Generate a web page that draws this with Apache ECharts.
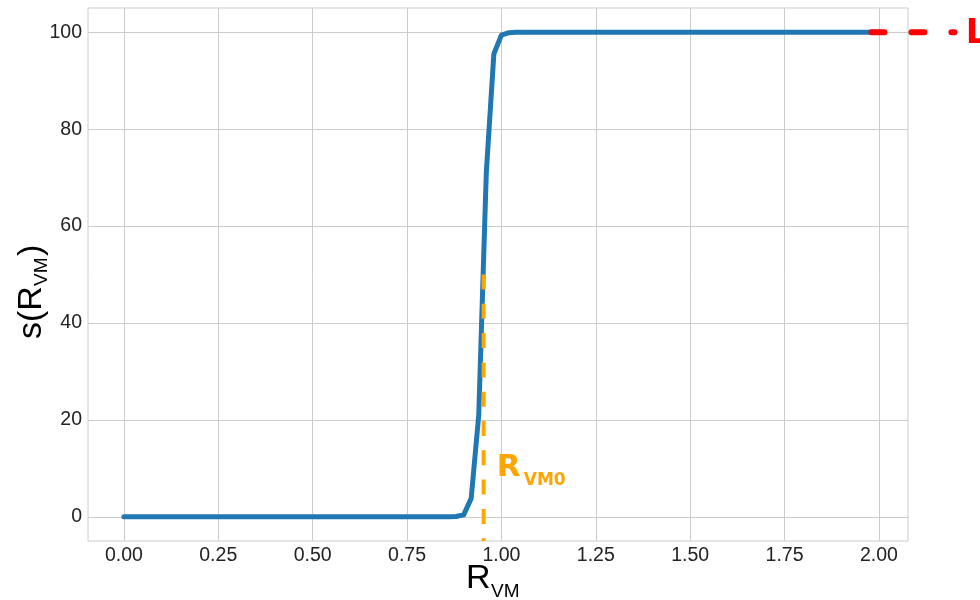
<!DOCTYPE html>
<html>
<head>
<meta charset="utf-8">
<script src="https://cdn.jsdelivr.net/npm/echarts@6/dist/echarts.min.js"></script>
<style>
html,body{margin:0;padding:0;background:#fff;}
#chart{width:980px;height:600px;}
</style>
</head>
<body>
<div id="chart"></div>
<script>
// ---- data ----
const rVM = [0.00, 0.84, 0.86, 0.88, 0.90, 0.92, 0.94, 0.96, 0.98, 1.00, 1.02, 1.04, 2.00];
const sRVM = [0, 0, 0.01, 0.05, 0.4, 3.8, 21, 71, 95.5, 99.4, 99.9, 100, 100];
const xTicks = [0, 0.25, 0.5, 0.75, 1.0, 1.25, 1.5, 1.75, 2.0];
const yTicks = [0, 20, 40, 60, 80, 100];
const rVM0 = 0.953;            // orange vertical marker
const rVM0Span = [50, -5];     // from half height down to the bottom
const refLevelX = [1.98, 2.2]; // red reference stub
const refLevelY = 100;
const xRange = [-0.095, 2.077];
const yRange = [-5, 105];

const chart = echarts.init(document.getElementById('chart'), null, {renderer: 'canvas'});
const tickFont = {fontFamily: 'Liberation Sans, Arial, sans-serif', fontSize: 19.5, color: '#222222'};

chart.setOption({
  animation: false,
  backgroundColor: '#ffffff',
  grid: {left: 88, right: 72, top: 8, bottom: 59, show: true, borderColor: '#cccccc', borderWidth: 1, backgroundColor: 'transparent'},
  xAxis: {
    type: 'value', min: xRange[0], max: xRange[1],
    axisLine: {show: false},
    axisTick: {show: false, customValues: xTicks},
    axisLabel: Object.assign({customValues: xTicks, margin: 5, formatter: v => v.toFixed(2), hideOverlap: false}, tickFont),
    splitLine: {show: true, lineStyle: {color: '#cccccc', width: 1}}
  },
  yAxis: {
    type: 'value', min: yRange[0], max: yRange[1],
    axisLine: {show: false},
    axisTick: {show: false, customValues: yTicks},
    axisLabel: Object.assign({customValues: yTicks, margin: 6, hideOverlap: false}, tickFont),
    splitLine: {show: true, lineStyle: {color: '#cccccc', width: 1}}
  },
  series: [
    {
      type: 'line', data: rVM.map((x, i) => [x, sRVM[i]]), showSymbol: false, symbol: 'none',
      lineStyle: {color: '#1f77b4', width: 5, cap: 'round', join: 'round'}, z: 2
    },
    {
      type: 'line', data: rVM0Span.map(y => [rVM0, y]), showSymbol: false, symbol: 'none',
      lineStyle: {color: '#ffa500', width: 4, type: [15, 14.3], cap: 'butt'}, z: 3
    }
  ]
});

// annotations placed through the chart's own scales
const pRef0 = chart.convertToPixel({gridIndex: 0}, [refLevelX[0], refLevelY]);
const pRef1 = chart.convertToPixel({gridIndex: 0}, [refLevelX[1], refLevelY]);
const pR0 = chart.convertToPixel({gridIndex: 0}, [rVM0 + 0.04, 10]);
const pL = chart.convertToPixel({gridIndex: 0}, [refLevelX[1] + 0.03, refLevelY]);
const boldFont = 'DejaVu Sans, sans-serif';
const labFont = 'Liberation Sans, Arial, sans-serif';

chart.setOption({
  graphic: [
    // red reference stub drawn outside the plot area
    {type: 'line', z: 20,
     shape: {x1: pRef0[0], y1: pRef0[1], x2: pRef1[0], y2: pRef1[1]},
     style: {stroke: '#ff0000', lineWidth: 6, lineDash: [13, 27], lineCap: 'round'}},
    // R_VM0 annotation
    {type: 'text', x: pR0[0] - 2, y: pR0[1], z: 10,
     style: {text: 'R', font: 'bold 31px ' + boldFont, fill: '#ffa500', textAlign: 'left', textVerticalAlign: 'middle'}},
    {type: 'text', x: pR0[0] + 25, y: pR0[1] + 12, z: 10,
     style: {text: 'VM0', font: 'bold 17px ' + boldFont, fill: '#ffa500', textAlign: 'left', textVerticalAlign: 'middle'}},
    // red label (cut at the edge)
    {type: 'text', x: pL[0], y: pL[1] + 2, z: 10,
     style: {text: 'L', font: 'bold 34px ' + boldFont, fill: '#ff0000', textAlign: 'left', textVerticalAlign: 'middle'}},
    // x axis title R_VM
    {type: 'text', x: 466, y: 579, z: 10,
     style: {text: 'R', font: '34px ' + labFont, fill: '#000000', textAlign: 'left', textVerticalAlign: 'middle'}},
    {type: 'text', x: 491, y: 592, z: 10,
     style: {text: 'VM', font: '19px ' + labFont, fill: '#000000', textAlign: 'left', textVerticalAlign: 'middle'}},
    // y axis title s(R_VM)
    {type: 'group', x: 32, y: 339, rotation: Math.PI / 2, z: 10,
     children: [
       {type: 'text', x: 0, y: 0, style: {text: 's(R', font: '34px ' + labFont, fill: '#000000', textAlign: 'left', textVerticalAlign: 'middle'}},
       {type: 'text', x: 53, y: 10, style: {text: 'VM', font: '19px ' + labFont, fill: '#000000', textAlign: 'left', textVerticalAlign: 'middle'}},
       {type: 'text', x: 83, y: 0, style: {text: ')', font: '34px ' + labFont, fill: '#000000', textAlign: 'left', textVerticalAlign: 'middle'}}
     ]}
  ]
});
</script>
</body>
</html>
